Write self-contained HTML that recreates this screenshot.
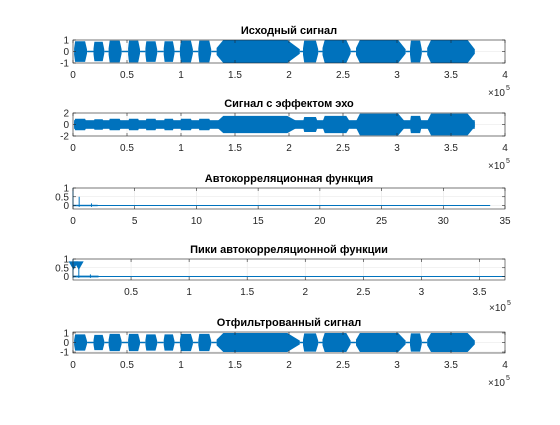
<!DOCTYPE html>
<html><head><meta charset="utf-8"><style>
body{margin:0;background:#fff;width:560px;height:420px;overflow:hidden}
svg{font-family:"Liberation Sans","DejaVu Sans",sans-serif}
</style></head><body>
<svg id="fig" width="560" height="420" viewBox="0 0 560 420"></svg>
<script>
// ---- data ----
const signalSegments = [[0.01,0.13],[0.19,0.29],[0.33,0.45],[0.51,0.62],[0.67,0.78],[0.84,0.94],[0.99,1.11],[1.16,1.28],[1.33,2.10],[2.13,2.27],[2.31,2.57],[2.62,3.08],[3.12,3.23],[3.28,3.72]];
const signalAmps = [0.9,0.85,0.95,0.95,0.9,0.9,0.95,0.95,1,0.95,1,1,0.95,1];
const echoBaseAmp = 0.75;
const echoAmps = [1.0,0.9,1.0,1.0,1.0,1.0,1.0,1.0,1.5,1.3,1.5,1.9,1.5,1.9];
const filteredAmps = [0.85,0.8,0.9,0.9,0.85,0.85,0.9,0.9,1,0.95,1,1,0.95,1];
const acfLags = [0,0.5,1.5];
const acfVals = [1,0.5,0.12];
const peakLocs = [0.004,0.05];
const peakVals = [0.55,0.55];
const ticks5 = [0,0.5,1,1.5,2,2.5,3,3.5,4];
const ticksAcf = [0,5,10,15,20,25,30,35];
const ticksPeaks = [0.5,1,1.5,2,2.5,3,3.5];

const svg=document.getElementById('fig');
const NS='http://www.w3.org/2000/svg';
const BLUE='#0072bd';
function el(tag,attrs,parent){const e=document.createElementNS(NS,tag);for(const k in attrs)e.setAttribute(k,attrs[k]);(parent||svg).appendChild(e);return e;}
function txt(x,y,s,attrs,parent){const t=el('text',Object.assign({x:x,y:y},attrs),parent);t.textContent=s;return t;}

function axes(name,top,bot,xmin,xmax,ymin,ymax,xticks,yticks,ylabels,title,mult){
  const L=73,R=505;
  const g=el('g',{});
  
  
  const sx=v=>L+(v-xmin)/(xmax-xmin)*(R-L);
  const sy=v=>bot-(v-ymin)/(ymax-ymin)*(bot-top);
  el('rect',{x:L,y:top,width:R-L,height:bot-top,fill:'#fff'},g);
  xticks.forEach(t=>{el('line',{x1:sx(t),x2:sx(t),y1:top,y2:bot,stroke:'#e6e6e6','stroke-width':0.6},g);});
  yticks.forEach(t=>{el('line',{x1:L,x2:R,y1:sy(t),y2:sy(t),stroke:'#e6e6e6','stroke-width':0.6},g);});
  const plot=el('g',{},g);
  xticks.forEach((t,i)=>{
    el('line',{x1:sx(t),x2:sx(t),y1:bot,y2:bot-3,stroke:'#262626','stroke-width':0.6},g);
    el('line',{x1:sx(t),x2:sx(t),y1:top,y2:top+3,stroke:'#262626','stroke-width':0.6},g);
    const lab=txt(sx(t),bot+15,String(t),{'font-size':10,'text-anchor':'middle',fill:'#262626'},g);
    
    
  });
  yticks.forEach((t,i)=>{
    el('line',{x1:L,x2:L+3,y1:sy(t),y2:sy(t),stroke:'#262626','stroke-width':0.6},g);
    el('line',{x1:R,x2:R-3,y1:sy(t),y2:sy(t),stroke:'#262626','stroke-width':0.6},g);
    const lab=txt(L-4,sy(t)+3.5,ylabels[i],{'font-size':10,'text-anchor':'end',fill:'#262626'},g);
    
    
  });
  el('rect',{x:L,y:top,width:R-L,height:bot-top,fill:'none',stroke:'#262626','stroke-width':0.6},g);
  const tt=txt((L+R)/2,top-6,title,{'font-size':11,'font-weight':'bold','text-anchor':'middle',fill:'#000'},g);
  
  
  if(mult){
    const m=txt(R,bot+33,'×10',{'font-size':10,'text-anchor':'end',fill:'#262626'},g);
    
    
    const e=txt(R+1,bot+27,'5',{'font-size':7,fill:'#262626'},g);
    
    
  }
  return {sx,sy,plot,top,bot};
}

function envelope(ax,segs,amps,base){
  const g=ax.plot;
  const cl=v=>Math.max(ax.top,Math.min(ax.bot,v));
  if(base>0){
    el('rect',{x:ax.sx(segs[0][0]),y:cl(ax.sy(base)),width:ax.sx(segs[segs.length-1][1])-ax.sx(segs[0][0]),height:cl(ax.sy(-base))-cl(ax.sy(base)),fill:BLUE},g);
  }
  segs.forEach((s,i)=>{
    const a=amps[i],x0=ax.sx(s[0]),x1=ax.sx(s[1]),w=x1-x0;
    const pts=[[x0,ax.sy(0.3*a)],[x0+w*0.08,ax.sy(a)],[x1-w*0.15,ax.sy(a)],[x1,ax.sy(0.2*a)],[x1,ax.sy(-0.2*a)],[x1-w*0.15,ax.sy(-a)],[x0+w*0.08,ax.sy(-a)],[x0,ax.sy(-0.3*a)]];
    const p=el('polygon',{points:pts.map(q=>q[0].toFixed(1)+','+cl(q[1]).toFixed(1)).join(' '),fill:BLUE},g);
    
    
    if(i<segs.length-1){
      el('line',{x1:x1,x2:ax.sx(segs[i+1][0]),y1:ax.sy(0),y2:ax.sy(0),stroke:BLUE,'stroke-width':1.5},g);
    }
  });
}

const a1=axes('original-signal-axes',40,63,0,4,-1,1,ticks5,[-1,0,1],['-1','0','1'],'Исходный сигнал',true);
envelope(a1,signalSegments,signalAmps,0);
const a2=axes('echo-signal-axes',113,136,0,4,-2,2,ticks5,[-2,0,2],['-2','0','2'],'Сигнал с эффектом эхо',true);
envelope(a2,signalSegments,echoAmps,echoBaseAmp);
const a3=axes('autocorrelation-axes',188,209,0,35,-0.2,1,ticksAcf,[0,0.5,1],['0','0.5','1'],'Автокорреляционная функция',false);
el('line',{x1:a3.sx(0),x2:a3.sx(33.8),y1:a3.sy(0),y2:a3.sy(0),stroke:BLUE,'stroke-width':1},a3.plot);
el('rect',{x:a3.sx(0),y:a3.sy(0.04),width:a3.sx(2)-a3.sx(0),height:a3.sy(-0.04)-a3.sy(0.04),fill:BLUE},a3.plot);
acfLags.forEach((l,i)=>{
  const ln=el('line',{x1:a3.sx(l),x2:a3.sx(l),y1:a3.sy(-0.08),y2:a3.sy(acfVals[i]),stroke:BLUE,'stroke-width':1},a3.plot);
  
  
});
const a4=axes('peaks-axes',259,280,0,3.72,-0.2,1,ticksPeaks,[0,0.5,1],['0','0.5','1'],'Пики автокорреляционной функции',false);
el('line',{x1:a4.sx(0),x2:a4.sx(3.72),y1:a4.sy(0),y2:a4.sy(0),stroke:BLUE,'stroke-width':1},a4.plot);
el('rect',{x:a4.sx(0),y:a4.sy(0.05),width:a4.sx(0.22)-a4.sx(0),height:a4.sy(-0.05)-a4.sy(0.05),fill:BLUE},a4.plot);
acfLags.forEach((l,i)=>{
  el('line',{x1:a4.sx(l/10),x2:a4.sx(l/10),y1:a4.sy(-0.08),y2:a4.sy(acfVals[i]),stroke:BLUE,'stroke-width':1},a4.plot);
});
peakLocs.forEach((l,i)=>{
  const x=a4.sx(l),y=a4.sy(peakVals[i]);
  const m=el('polygon',{points:`${x-4},${y-5} ${x+4},${y-5} ${x},${y+2}`,fill:BLUE,stroke:BLUE},a4.plot);
  
  
});
const m4b=txt(506,311,'×10',{'font-size':10,'text-anchor':'end',fill:'#262626'});


const m4c=txt(507,305,'5',{'font-size':7,fill:'#262626'});


const a5=axes('filtered-signal-axes',332,353,0,4,-1.1,1.1,ticks5,[-1,0,1],['-1','0','1'],'Отфильтрованный сигнал',true);
envelope(a5,signalSegments,filteredAmps,0);
</script>
</body></html>
